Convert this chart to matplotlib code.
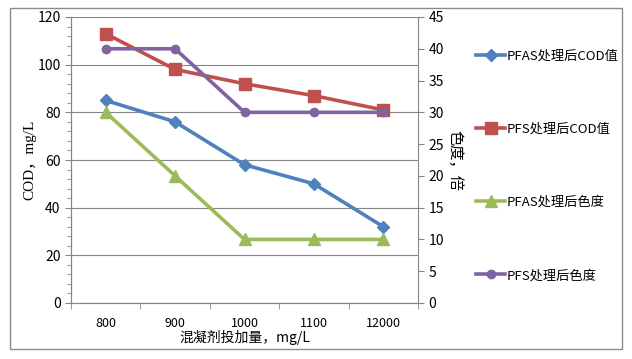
import matplotlib.pyplot as plt
from matplotlib.patches import Rectangle
from matplotlib.ticker import MultipleLocator, FixedLocator

plt.rcParams['font.family'] = ['Noto Sans CJK SC', 'DejaVu Sans']

# -----------------------------
# Data
# -----------------------------
doses = ["800", "900", "1000", "1100", "12000"]
pfas_cod = [85, 76, 58, 50, 32]
pfs_cod = [113, 98, 92, 87, 81]
pfas_color = [30, 20, 10, 10, 10]
pfs_color = [40, 40, 30, 30, 30]

x = list(range(len(doses)))

fig = plt.figure(figsize=(6.32, 3.59), dpi=100)
fig.patches.append(Rectangle((10 / 632, 1 - 349 / 359), 612 / 632, 341 / 359,
                             transform=fig.transFigure, fill=False,
                             edgecolor="#8c8c8c", linewidth=1.0))

ax = fig.add_axes([71 / 632, 1 - 303 / 359, 347 / 632, 286 / 359])
ax2 = ax.twinx()

l1, = ax.plot(x, pfas_cod, color="#4F81BD", lw=2.6, marker="D", ms=6,
              label="PFAS处理后COD值")
l2, = ax.plot(x, pfs_cod, color="#C0504D", lw=2.6, marker="s", ms=8,
              label="PFS处理后COD值")
l3, = ax2.plot(x, pfas_color, color="#9BBB59", lw=2.6, marker="^", ms=8,
               label="PFAS处理后色度")
l4, = ax2.plot(x, pfs_color, color="#8064A2", lw=2.6, marker="o", ms=6,
               label="PFS处理后色度")

ax.set_xlim(-0.5, len(doses) - 0.5)
ax.set_ylim(0, 120)
ax2.set_ylim(0, 45)

ax.yaxis.set_major_locator(MultipleLocator(20))
ax.yaxis.set_minor_locator(MultipleLocator(4))
ax2.yaxis.set_major_locator(MultipleLocator(5))

ax.set_xticks(x)
ax.set_xticklabels(doses)
ax.xaxis.set_minor_locator(FixedLocator([i - 0.5 for i in range(len(doses) + 1)]))
ax.tick_params(axis="x", which="major", length=0, pad=10, labelsize=9)
ax.tick_params(axis="x", which="minor", length=4, color="#868686")
ax.tick_params(axis="y", which="major", direction="out", length=4,
               color="#868686", labelsize=10)
ax.tick_params(axis="y", which="minor", direction="out", length=3,
               color="#868686")
ax2.tick_params(axis="y", direction="out", length=4, color="#868686",
                labelsize=10)

ax.grid(axis="y", which="major", color="#868686", lw=0.8)
ax.set_axisbelow(True)

for a in (ax, ax2):
    a.spines["top"].set_visible(False)
    a.spines["left"].set_color("#868686")
    a.spines["right"].set_color("#868686")
    a.spines["bottom"].set_color("#868686")
ax.spines["right"].set_visible(False)

ax.set_ylabel("COD，mg/L", fontsize=11, family=["Liberation Serif", "Noto Sans CJK SC"],
              labelpad=1)
ax2.set_ylabel("色度，倍", fontsize=11, rotation=270, labelpad=14)
ax.set_xlabel("混凝剂投加量，mg/L", fontsize=10, labelpad=0)

fig.legend(handles=[l1, l2, l3, l4], loc="upper left",
           bbox_to_anchor=(476 / 632, 1 - 50 / 359), frameon=False,
           fontsize=9.5, labelspacing=4.55, handlelength=2.2,
           handletextpad=0.15, borderaxespad=0, borderpad=0)

fig.savefig("out.png", dpi=100)
